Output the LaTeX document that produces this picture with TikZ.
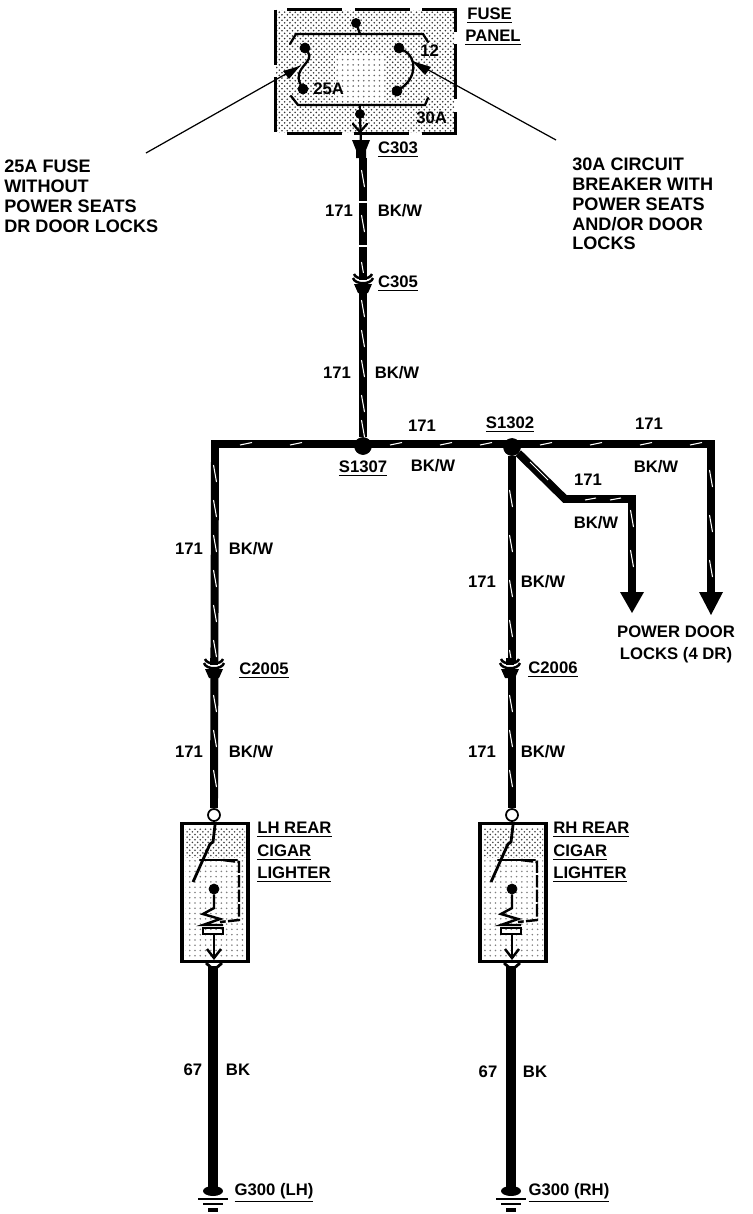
\documentclass[tikz,border=0pt]{standalone}
\usepackage{fontspec}
\setmainfont{Liberation Sans}
\usetikzlibrary{patterns}
\tikzset{
  lbl/.style={font=\bfseries\fontsize{9.5}{11}\selectfont, inner sep=0pt},
  lblu/.style={lbl, yshift=-1.6pt},
  note/.style={inner sep=0pt, anchor=north west, align=left, font=\bfseries\fontsize{10.3}{11.2}\selectfont},
  wire/.style={line width=4.5pt},
  gndwire/.style={line width=6pt},
  slash/.style={white, line width=.6pt},
  thin line/.style={line width=.7pt},
  thick line/.style={line width=1.3pt, line cap=round},
  dot/.style={draw, circle, fill=black, inner sep=0pt, minimum size=.22cm},
  ring/.style={draw, circle, fill=white, line width=1pt, inner sep=0pt, minimum size=.24cm},
  device/.style={draw, line width=1.8pt, inner sep=0pt, minimum width=1.32cm, minimum height=2.76cm}
}
\begin{document}
\begin{tikzpicture}[x=.02cm, y=-.02cm]
  \useasboundingbox (0, 0) rectangle (752, 1214);
  % fuse panel
  \node (panel) [inner sep=0pt, minimum width=3.58cm, minimum height=2.46cm, pattern=crosshatch dots, pattern color=black!80] at (365.5, 71.5) {};
  \fill [white] (335, 55) rectangle (385, 100);
  \fill [pattern=dots, pattern color=black!60] (335, 55) rectangle (385, 100);
  \draw [line width=1.6pt, dash pattern=on 1.1cm off .25cm] (panel.north west) rectangle (panel.south east);
  \node [dot, minimum size=.18cm] (ptop) at (356, 23) {};
  \node [dot, minimum size=.18cm] (pbot) at (360, 114) {};
  \node [dot, minimum size=.2cm] (fa) at (305, 48) {};
  \node [dot, minimum size=.2cm] (fb) at (303, 89) {};
  \node [dot, minimum size=.2cm] (ca) at (399, 48) {};
  \node [dot, minimum size=.2cm] (cb) at (397, 91) {};
  \coordinate (c303) at (361, 146);
  \draw [thick line] (290, 44) -- (296, 34) -- (423, 34) -- (428, 42);
  \draw [thick line] (ptop) -- (360, 34);
  \draw [thick line] (291, 96) -- (298, 105) -- (425, 105) -- (428, 98);
  \draw [thick line] (pbot) -- (360, 105);
  \draw [thick line] (fa) .. controls (315, 62) and (292, 68) .. (fb);
  \draw [thick line] (ca) .. controls (418, 58) and (416, 78) .. (cb);
  \draw [thick line] (pbot) -- (c303);
  \draw [thick line] (353, 124) -- (360, 132) -- (367, 124);
  \fill (352, 140) -- (370, 140) -- (366, 150) -- (366, 158) -- (356, 158) -- (356, 150) -- cycle;
  \node [lbl, anchor=west] (t25a) at (313, 89) {25A};
  \node [lbl, anchor=west] (t12) at (420, 51) {12};
  \node [lbl, anchor=west] (t30a) at (416, 118) {30A};
  \node [lblu, anchor=west] (tfuse) at (467, 13) {\underline{FUSE}};
  \node [lblu, anchor=west] (tpanel) at (465, 35) {\underline{PANEL}};
  % notes and leaders
  \node [note] (noteleft) at (4, 160) {25A FUSE\\WITHOUT\\POWER SEATS\\DR DOOR LOCKS};
  \node [note] (noteright) at (572, 158) {30A CIRCUIT\\BREAKER WITH\\POWER SEATS\\AND/OR DOOR\\LOCKS};
  \coordinate (leadl) at (146, 153);
  \coordinate (leadr) at (556, 140);
  \draw [thin line] (leadl) -- (300, 66);
  \draw [thin line] (leadr) -- (412, 61);
  \fill (300, 66) -- (283, 71) -- (289, 79) -- cycle;
  \fill (412, 61) -- (425, 75) -- (431, 67) -- cycle;
  % main wires
  \node [dot, minimum size=.34cm] (s1307) at (363, 446) {};
  \node [dot, minimum size=.34cm] (s1302) at (512, 447) {};
  \node [ring] (lring) at (214, 815) {};
  \node [ring] (rring) at (512, 815) {};
  \coordinate (c303end) at (363, 158);
  \coordinate (ltee) at (215, 444);
  \coordinate (rtee) at (711, 444);
  \coordinate (bend) at (565, 499);
  \coordinate (bendend) at (632, 499);
  \coordinate (lockl) at (632, 594);
  \coordinate (lockr) at (711, 594);
  \draw [wire] (c303end) -- (s1307);
  \draw [wire] (lring) -- (ltee) -- (rtee) -- (lockr);
  \draw [wire] (s1302) -- (rring);
  \draw [wire] (s1302) -- (bend) -- (bendend) -- (lockl);
  \fill (620, 592) -- (644, 592) -- (632, 613) -- cycle;
  \fill (699, 592) -- (723, 592) -- (711, 615) -- cycle;
  \foreach \x in {240, 290, 390, 440, 480, 540, 590, 640, 690}
    \draw [slash] (\x, 445) -- (\x+12, 442.5);
  \foreach \x in {585, 610}
    \draw [slash] (\x, 500) -- (\x+11, 498);
  \draw [slash] (530, 462) -- (548, 480);
  \foreach \x/\y in {363/170, 363/215, 363/262, 363/300, 363/330, 363/360, 363/395, 363/420,
    215/465, 215/500, 215/535, 215/570, 215/605, 215/640, 215/695, 215/730, 215/770,
    511/490, 511/535, 511/580, 511/620, 511/650, 511/695, 511/730, 511/770,
    632/510, 632/550, 711/470, 711/515, 711/560}
    \draw [slash] (\x-1.5, \y) -- (\x+1.5, \y+17);
  \foreach \y in {201, 245}
    \fill [white] (355, \y) rectangle (371, \y+2);
  % connectors
  \foreach \x/\y/\n in {363/283/c305, 214/668/c2005, 510/668/c2006} {
    \fill [white] (\x-12, \y-5) rectangle (\x+12, \y+6);
    \draw [line width=1.4pt] (\x-9, \y-9) .. controls (\x-7, \y-3) and (\x+7, \y-3) .. (\x+9, \y-9);
    \draw [line width=1.4pt] (\x-10, \y-5) .. controls (\x-8, \y+2) and (\x+8, \y+2) .. (\x+10, \y-5);
    \fill (\x-9, \y+1) -- (\x+9, \y+1) -- (\x+5, \y+10) -- (\x-5, \y+10) -- cycle;
    \fill (\x-4, \y-10) rectangle (\x+4, \y-3);
    \coordinate (\n) at (\x, \y);
  }
  % rear cigar lighters
  \foreach \x/\n in {215/l, 513/r} {
    \node [device] (box\n) at (\x, 892.5) {};
    \fill [pattern=crosshatch dots, pattern color=black!75] (\x-30, 828) rectangle (\x+30, 857);
    \fill [pattern=dots, pattern color=black!50] (\x-30, 857) rectangle (\x+30, 957);
    \node [dot, minimum size=.2cm] (lamp\n) at (\x-1, 889) {};
    \coordinate (swa\n) at (\x, 825);
    \coordinate (swb\n) at (\x-22, 882);
    \draw [line width=1.6pt] (swa\n) -- (\x-2, 842) -- (\x-5, 844) -- (swb\n);
    \draw [thick line] (\x-15, 860) -- (\x+22, 860);
    \draw [line width=1.4pt, dash pattern=on 7pt off 1.3pt] (\x+8, 860) -- (\x+24, 862) -- (\x+24, 920) -- (\x+5, 922);
    \draw [line width=1.4pt] (lamp\n) -- (\x-1, 908) -- (\x-12, 914) -- (\x+5, 919) -- (\x-12, 925) -- (\x+8, 925);
    \draw [line width=1.4pt] (\x-12, 928) rectangle (\x+8, 934);
    \draw [line width=1.4pt] (\x-1, 934) -- (\x-1, 958);
    \draw [line width=1.4pt] (\x-8, 949) -- (\x-1, 958) -- (\x+6, 949);
    \draw [line width=1.6pt] (\x-9, 963) -- (\x-1, 970) -- (\x+7, 963);
    \coordinate (gnd\n) at (\x-2, 1192);
    \draw [gndwire] (\x-2, 966) -- (gnd\n);
    \fill (\x-2, 1191) ellipse (10 and 5);
    \draw [line width=.9pt] (\x-17, 1199) -- (\x+13, 1199);
    \draw [line width=.9pt] (\x-12, 1204) -- (\x+8, 1204);
    \fill (\x-7, 1208) rectangle (\x+3, 1212);
  }
  % labels
  \node [lbl] (a1) at (339, 211) {171};
  \node [lbl] (a2) at (400, 211) {BK/W};
  \node [lbl] (a3) at (337, 373) {171};
  \node [lbl] (a4) at (397, 373) {BK/W};
  \node [lbl] (a5) at (422, 426) {171};
  \node [lbl] (a6) at (433, 466) {BK/W};
  \node [lbl] (a7) at (649, 424) {171};
  \node [lbl] (a8) at (656, 467) {BK/W};
  \node [lbl] (a9) at (588, 480) {171};
  \node [lbl] (a10) at (596, 523) {BK/W};
  \node [lbl] (a11) at (189, 549) {171};
  \node [lbl] (a12) at (251, 549) {BK/W};
  \node [lbl] (a13) at (482, 582) {171};
  \node [lbl] (a14) at (543, 582) {BK/W};
  \node [lbl] (a15) at (189, 752) {171};
  \node [lbl] (a16) at (251, 752) {BK/W};
  \node [lbl] (a17) at (482, 752) {171};
  \node [lbl] (a18) at (543, 752) {BK/W};
  \node [lbl] (a19) at (193, 1070) {67};
  \node [lbl] (a20) at (238, 1070) {BK};
  \node [lbl] (a21) at (488, 1072) {67};
  \node [lbl] (a22) at (535, 1072) {BK};
  \node [lblu] (b1) at (398, 147) {\underline{C303}};
  \node [lblu] (b2) at (398, 281) {\underline{C305}};
  \node [lblu] (b3) at (363, 466) {\underline{S1307}};
  \node [lblu] (b4) at (510, 422) {\underline{S1302}};
  \node [lblu] (b5) at (264, 668) {\underline{C2005}};
  \node [lblu] (b6) at (553, 667) {\underline{C2006}};
  \node [lblu, anchor=west] (l1) at (257, 827) {\underline{LH REAR}};
  \node [lblu, anchor=west] (l2) at (257, 850) {\underline{CIGAR}};
  \node [lblu, anchor=west] (l3) at (257, 872) {\underline{LIGHTER}};
  \node [lblu, anchor=west] (r1) at (553, 827) {\underline{RH REAR}};
  \node [lblu, anchor=west] (r2) at (553, 850) {\underline{CIGAR}};
  \node [lblu, anchor=west] (r3) at (553, 872) {\underline{LIGHTER}};
  \node [lblu] (g1) at (274, 1190) {\underline{G300 (LH)}};
  \node [lblu] (g2) at (569, 1190) {\underline{G300 (RH)}};
  \node [lbl] (p1) at (676, 632) {POWER DOOR};
  \node [lbl] (p2) at (676, 655) {LOCKS (4 DR)};
\end{tikzpicture}
\end{document}
